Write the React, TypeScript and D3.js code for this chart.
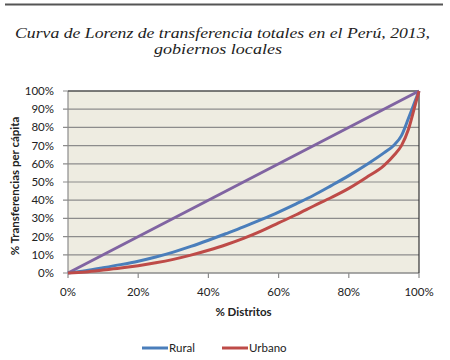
import React from "react";
import * as d3 from "d3";

const distritos = [0, 5, 10, 15, 20, 25, 30, 35, 40, 45, 50, 55, 60, 65, 70, 75, 80, 85, 90, 93, 95, 97, 99, 100];
const rural = [0, 1.3, 2.9, 4.6, 6.5, 8.8, 11.5, 14.6, 18, 21.6, 25.3, 29.3, 33.5, 38, 42.7, 48, 53.5, 59.5, 66, 70.5, 75.5, 85, 95, 100];
const urbano = [0, 0.6, 1.6, 2.7, 4, 5.6, 7.5, 9.8, 12.5, 15.5, 19, 23, 27.5, 32, 36.8, 41.5, 46.5, 52.5, 59, 65, 70, 79, 93, 100];
const igualdadX = [0, 100];
const igualdadY = [0, 100];
const yTicks = [0, 10, 20, 30, 40, 50, 60, 70, 80, 90, 100];
const xTicks = [0, 20, 40, 60, 80, 100];
const seriesNames = ["Rural", "Urbano"];

const W = 450, H = 360;
const left = 68, right = 419, top = 91, bottom = 273;
const font = "Lato, 'Open Sans', sans-serif";
const serif = "'Liberation Serif', 'DejaVu Serif', serif";

export default function App() {
  const x = d3.scaleLinear().domain([0, 100]).range([left, right]);
  const y = d3.scaleLinear().domain([0, 100]).range([bottom, top]);
  const line = d3.line<[number, number]>().x(d => x(d[0])).y(d => y(d[1])).curve(d3.curveMonotoneX);
  const ruralPts = distritos.map((d, i) => [d, rural[i]] as [number, number]);
  const urbPts = distritos.map((d, i) => [d, urbano[i]] as [number, number]);
  const eqPts = igualdadX.map((d, i) => [d, igualdadY[i]] as [number, number]);
  const colors = ["#4A7EBB", "#BE4B48"];

  return (
    <svg width={W} height={H} style={{ position: "fixed", left: 0, top: 0, background: "#fff" }}>
      <rect x={0} y={0} width={W} height={H} fill="#fff" />
      <line x1={5} x2={443} y1={4.5} y2={4.5} stroke="#555" strokeWidth={2} />
      <text x={222.5} y={37.5} textAnchor="middle" fontFamily={serif} fontStyle="italic" fontSize={15.5} fill="#222"
        textLength={415} lengthAdjust="spacingAndGlyphs">
        Curva de Lorenz de transferencia totales en el Perú, 2013,
      </text>
      <text x={218} y={53.5} textAnchor="middle" fontFamily={serif} fontStyle="italic" fontSize={15.5} fill="#222"
        textLength={128} lengthAdjust="spacingAndGlyphs">
        gobiernos locales
      </text>
      <rect x={left} y={top} width={right - left} height={bottom - top} fill="#EEECE1" />
      {yTicks.map(t => (
        <line key={"g" + t} x1={left - 5} x2={right} y1={y(t)} y2={y(t)} stroke="#8C8C8C" strokeWidth={1.2} />
      ))}
      {yTicks.map(t => (
        <text key={"yl" + t} x={54} y={y(t) + 4} textAnchor="end" fontFamily={font} fontSize={11.5} fill="#222">{t}%</text>
      ))}
      {xTicks.map(t => (
        <line key={"xt" + t} x1={x(t)} x2={x(t)} y1={bottom} y2={bottom + 5} stroke="#8C8C8C" strokeWidth={1.2} />
      ))}
      {xTicks.map(t => (
        <text key={"xl" + t} x={x(t)} y={296} textAnchor="middle" fontFamily={font} fontSize={11.5} fill="#222">{t}%</text>
      ))}
      <line x1={left} x2={left} y1={top} y2={bottom} stroke="#8C8C8C" strokeWidth={1.2} />
      <line x1={left} x2={right} y1={bottom} y2={bottom} stroke="#8C8C8C" strokeWidth={1.2} />
      <line x1={left} x2={right} y1={top} y2={top} stroke="#333" strokeWidth={1.2} />
      <line x1={right} x2={right} y1={top} y2={bottom} stroke="#333" strokeWidth={1.2} />
      <path d={line(eqPts) || ""} fill="none" stroke="#8064A2" strokeWidth={3} />
      <path d={line(ruralPts) || ""} fill="none" stroke={colors[0]} strokeWidth={3} />
      <path d={line(urbPts) || ""} fill="none" stroke={colors[1]} strokeWidth={3} />
      <text x={243.5} y={316} textAnchor="middle" fontFamily={font} fontWeight="bold" fontSize={11.5} fill="#222">% Distritos</text>
      <text transform="translate(19,186) rotate(-90)" textAnchor="middle" fontFamily={font} fontWeight="bold" fontSize={11.5} fill="#222">% Transferencias per cápita</text>
      {seriesNames.map((n, i) => {
        const lx = 142 + i * 80;
        return (
          <g key={n}>
            <line x1={lx} x2={lx + 26} y1={348} y2={348} stroke={colors[i]} strokeWidth={3} />
            <text x={lx + 27} y={352} fontFamily={font} fontSize={11.5} fill="#222">{n}</text>
          </g>
        );
      })}
    </svg>
  );
}
